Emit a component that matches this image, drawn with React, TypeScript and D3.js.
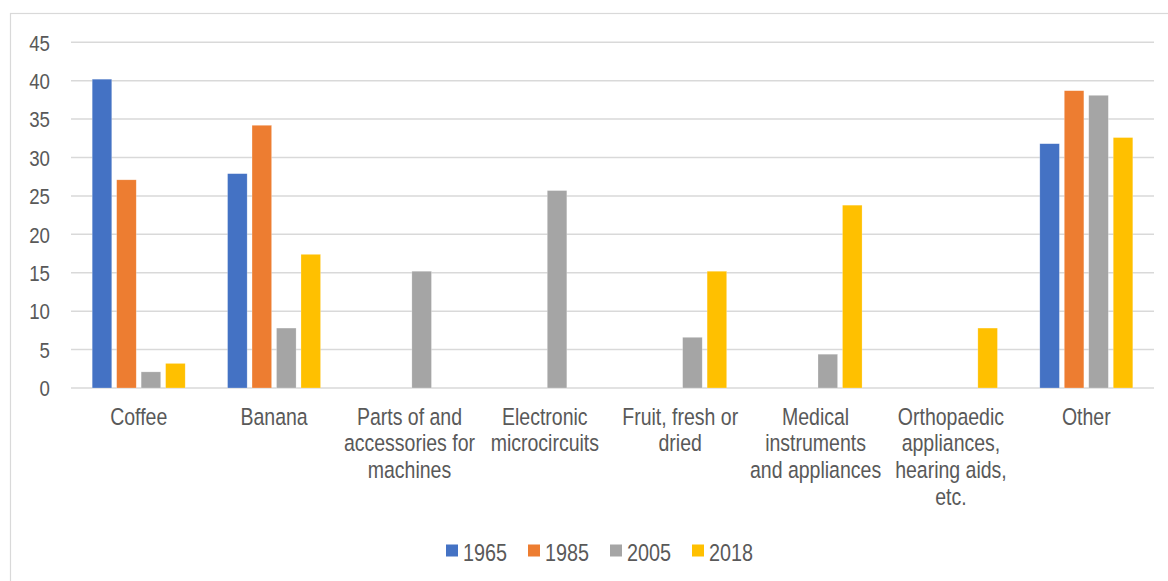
import React from "react";
import * as d3 from "d3";

// values (share of exports, %)
const categories = [
  ["Coffee"],
  ["Banana"],
  ["Parts of and", "accessories for", "machines"],
  ["Electronic", "microcircuits"],
  ["Fruit, fresh or", "dried"],
  ["Medical", "instruments", "and appliances"],
  ["Orthopaedic", "appliances,", "hearing aids,", "etc."],
  ["Other"],
];
const years = ["1965", "1985", "2005", "2018"];
const colors = ["#4472C4", "#ED7D31", "#A5A5A5", "#FFC000"];
const v1965 = [40.2, 27.9, 0, 0, 0, 0, 0, 31.8];
const v1985 = [27.1, 34.2, 0, 0, 0, 0, 0, 38.7];
const v2005 = [2.1, 7.8, 15.2, 25.7, 6.6, 4.4, 0, 38.1];
const v2018 = [3.2, 17.4, 0, 0, 15.2, 23.8, 7.8, 32.6];
const series = [v1965, v1985, v2005, v2018];
const yTicks = d3.range(0, 50, 5);

const W = 1168, H = 581;
const left = 71, right = 1154, top = 42.3, bottom = 388;
const textColor = "#595959";
const font = "'Liberation Sans', Arial, sans-serif";
const sx = 0.83;

export default function App() {
  const x0 = d3.scaleBand<number>().domain(d3.range(categories.length)).range([left, right]).padding(0);
  const groupW = x0.bandwidth() * 0.687;
  const x1 = d3.scaleBand<number>().domain(d3.range(years.length))
    .range([(x0.bandwidth() - groupW) / 2, (x0.bandwidth() + groupW) / 2]).paddingInner(0.2);
  const y = d3.scaleLinear().domain([0, 45]).range([bottom, top]);

  const legendX = d3.scaleBand<number>().domain(d3.range(years.length)).range([446, 774]);

  return (
    <svg width={W} height={H} style={{ position: "absolute", left: 0, top: 0, background: "#fff" }}>
      <rect x={10.5} y={13.5} width={1300} height={800} fill="#fff" stroke="#d9d9d9" strokeWidth={1.2} />
      <g>
        {yTicks.map((t) => (
          <g key={t}>
            <line x1={left} x2={right} y1={y(t)} y2={y(t)} stroke="#d9d9d9" strokeWidth={1.5} />
            <text
              transform={`translate(50,${y(t) + 8.2}) scale(${sx},1)`}
              textAnchor="end"
              fontFamily={font}
              fontSize={22.5}
              fill={textColor}
            >
              {t}
            </text>
          </g>
        ))}
      </g>
      <g>
        {categories.map((c, i) =>
          series.map((s, k) =>
            s[i] > 0 ? (
              <rect
                key={`${i}-${k}`}
                x={(x0(i) ?? 0) + (x1(k) ?? 0)}
                y={y(s[i])}
                width={x1.bandwidth()}
                height={y(0) - y(s[i])}
                fill={colors[k]}
                stroke="#fff"
                strokeOpacity={0.4}
                strokeWidth={0.6}
              />
            ) : null
          )
        )}
      </g>
      <g>
        {categories.map((lines, i) => (
          <text
            key={i}
            transform={`translate(${(x0(i) ?? 0) + x0.bandwidth() / 2},424.5) scale(${sx},1)`}
            textAnchor="middle"
            fontFamily={font}
            fontSize={23.5}
            fill={textColor}
          >
            {lines.map((l, j) => (
              <tspan key={j} x={0} y={j * 27}>
                {l}
              </tspan>
            ))}
          </text>
        ))}
      </g>
      <g>
        {years.map((yr, k) => (
          <g key={yr} transform={`translate(${legendX(k)},0)`}>
            <rect x={0} y={544.5} width={12} height={12} fill={colors[k]} />
            <text
              transform={`translate(17,560.5) scale(${sx + 0.03},1)`}
              fontFamily={font}
              fontSize={23}
              fill={textColor}
            >
              {yr}
            </text>
          </g>
        ))}
      </g>
    </svg>
  );
}
